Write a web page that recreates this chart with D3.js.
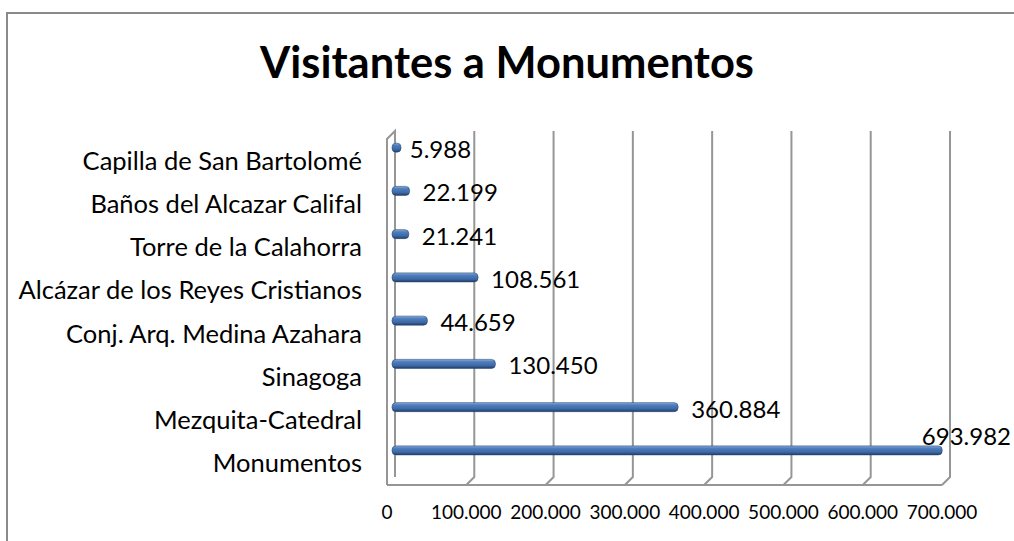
<!DOCTYPE html>
<html>
<head>
<meta charset="utf-8">
<script src="https://cdn.jsdelivr.net/npm/d3@7"></script>
<style>
  body { margin: 0; background: #fff; }
  text { font-family: Lato, "Open Sans", sans-serif; fill: #000; }
</style>
</head>
<body>
<div id="chart"></div>
<script>
// data, bottom to top as in the source sheet
const categories = [
  "Monumentos",
  "Mezquita-Catedral",
  "Sinagoga",
  "Conj. Arq. Medina Azahara",
  "Alcázar de los Reyes Cristianos",
  "Torre de la Calahorra",
  "Baños del Alcazar Califal",
  "Capilla de San Bartolomé"
];
const visitors = [693982, 360884, 130450, 44659, 108561, 21241, 22199, 5988];
const xTicks = [0, 100000, 200000, 300000, 400000, 500000, 600000, 700000];
const title = "Visitantes a Monumentos";

const width = 1014, height = 541;
const plot = { left: 395, right: 950, top: 131, bottom: 477 };
const depth = 8; // fake 3d offset of walls

const esFormat = d3.formatLocale({ decimal: ",", thousands: ".", grouping: [3], currency: ["", "€"] }).format(",d");

const data = categories.map((c, i) => ({ name: c, value: visitors[i] }));

const svg = d3.select("#chart")
  .append("svg")
  .attr("width", width)
  .attr("height", height);

const defs = svg.append("defs");
const grad = defs.append("linearGradient")
  .attr("id", "barGrad")
  .attr("x1", 0).attr("y1", 0).attr("x2", 0).attr("y2", 1);
grad.append("stop").attr("offset", "0%").attr("stop-color", "#8fb0dc");
grad.append("stop").attr("offset", "25%").attr("stop-color", "#4f7fbf");
grad.append("stop").attr("offset", "70%").attr("stop-color", "#3e68a3");
grad.append("stop").attr("offset", "100%").attr("stop-color", "#1f3c66");

// outer chart border (runs off the page on the right / bottom)
svg.append("rect")
  .attr("x", 7).attr("y", 13)
  .attr("width", 1030).attr("height", 560)
  .attr("fill", "none")
  .attr("stroke", "#8a8a8a")
  .attr("stroke-width", 2);

svg.append("text")
  .attr("x", 507)
  .attr("y", 78)
  .attr("text-anchor", "middle")
  .attr("font-size", 43.5)
  .attr("font-weight", "bold")
  .text(title);

const x = d3.scaleLinear()
  .domain([0, 700000])
  .range([plot.left, plot.right]);

const y = d3.scaleBand()
  .domain(categories.slice().reverse())
  .range([plot.top + depth, plot.bottom + depth]);

const grid = svg.append("g")
  .attr("stroke", "#969696")
  .attr("stroke-width", 2)
  .attr("fill", "none");

// left wall
grid.append("path")
  .attr("d", `M${x(0) - depth},${plot.bottom + depth} L${x(0) - depth},${plot.top + depth} L${x(0)},${plot.top} L${x(0)},${plot.bottom}`);

// floor front edge
grid.append("line")
  .attr("x1", x(0) - depth).attr("x2", x(700000) - depth)
  .attr("y1", plot.bottom + depth).attr("y2", plot.bottom + depth);

// vertical gridlines with their floor diagonal
grid.selectAll("path.gl")
  .data(xTicks.slice(1))
  .enter()
  .append("path")
  .attr("class", "gl")
  .attr("d", d => `M${x(d)},${plot.top} L${x(d)},${plot.bottom} L${x(d) - depth},${plot.bottom + depth}`);

// x tick labels, under the front edge
svg.append("g")
  .selectAll("text")
  .data(xTicks)
  .enter()
  .append("text")
  .attr("x", d => x(d) - depth)
  .attr("y", 519)
  .attr("text-anchor", "middle")
  .attr("font-size", 19)
  .text(d => esFormat(d));

// category labels
svg.append("g")
  .selectAll("text")
  .data(categories)
  .enter()
  .append("text")
  .attr("x", 362)
  .attr("y", d => y(d) + y.bandwidth() / 2)
  .attr("dy", "0.35em")
  .attr("text-anchor", "end")
  .attr("font-size", 25.5)
  .text(d => d);

// bars sit half way back in the depth, a bit above the band centre
const barH = 9;
const barShift = -depth / 2 + 1;
const barY = d => y(d.name) + y.bandwidth() / 2 - 13;

svg.append("g")
  .selectAll("rect")
  .data(data)
  .enter()
  .append("rect")
  .attr("x", x(0) + barShift)
  .attr("y", d => barY(d) - barH / 2)
  .attr("width", d => Math.max(barH, x(d.value) - x(0)))
  .attr("height", barH)
  .attr("rx", 4)
  .attr("fill", "url(#barGrad)")
  .attr("stroke", "#2a4a78")
  .attr("stroke-width", 0.6);

// value labels
svg.append("g")
  .selectAll("text")
  .data(data)
  .enter()
  .append("text")
  .attr("font-size", 24)
  .attr("dy", "0.35em")
  .text(d => esFormat(d.value))
  .each(function (d) {
    const end = x(d.value) + barShift;
    const w = this.getComputedTextLength();
    if (end + 13 + w > plot.right) {
      // no room on the right: sit above the bar end, kept inside the page
      d3.select(this).attr("x", Math.min(end - 10, width - 3 - w)).attr("y", barY(d) - 14);
    } else {
      d3.select(this).attr("x", end + 13).attr("y", barY(d) + 2);
    }
  });
</script>
</body>
</html>
